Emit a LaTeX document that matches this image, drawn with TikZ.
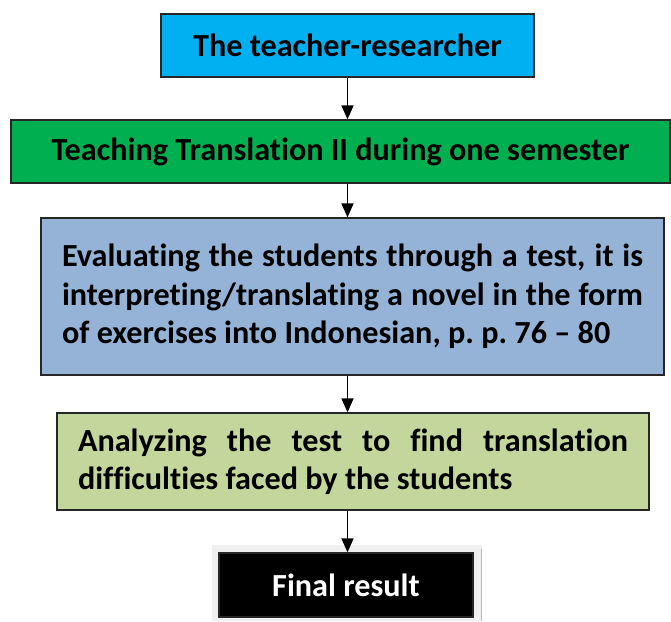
\documentclass[tikz,border=0pt]{standalone}
\usepackage{fontspec}
\setmainfont{Carlito}[Ligatures=NoCommon]
\usetikzlibrary{positioning,arrows.meta}

\definecolor{stepcyan}{HTML}{00B0F0}
\definecolor{stepgreen}{HTML}{00B050}
\definecolor{stepblue}{HTML}{95B3D7}
\definecolor{steplime}{HTML}{C3D69B}

\tikzset{
  stage/.style={shape=rectangle,draw=black!85,line width=1.3pt,inner sep=0pt,
    node font={\bfseries\fontsize{32.2}{38.5}\selectfont\hyphenpenalty=10000\exhyphenpenalty=10000}},
  flow/.style={line width=1.6pt,-{Triangle[width=12pt,length=14pt]}}
}

\begin{document}
\begin{tikzpicture}[x=1pt,y=-1pt]
\useasboundingbox (0,0) rectangle (671,621);

\node[stage,fill=stepcyan,minimum width=373pt,minimum height=63pt] (R) at (347.5,45.5) {The teacher-researcher};
\node[stage,fill=stepgreen,minimum width=659pt,minimum height=63pt] (T) at (340.5,151.5) {Teaching Translation II during one semester};
\node[stage,fill=stepblue,text width=581pt,inner xsep=21pt,minimum height=157pt,align=justify] (E) at (352.5,296.5)
  {Evaluating the students through a test, it is interpreting/translating a novel in the form of exercises into Indonesian, p.\ p.\ 76 -- 80\par\vspace*{12pt}};
\node[stage,fill=steplime,text width=550pt,inner xsep=21pt,minimum height=97pt,align=justify] (A) at (353,461.5)
  {Analyzing the test to find translation difficulties faced by the students};

% frame behind the last step
\fill[gray!12] (212,545) rectangle (482,621);
\draw[gray!55,line width=1pt] (481,549) -- (481,621);
\node[stage,fill=black,text=white,minimum width=254pt,minimum height=64pt] (F) at (346,585) {Final result};

\draw[flow] (R.south) -- (R.south |- T.north);
\draw[flow] (R.south |- T.south) -- (R.south |- E.north);
\draw[flow] (R.south |- E.south) -- (R.south |- A.north);
\draw[flow] (R.south |- A.south) -- (R.south |- F.north);
\end{tikzpicture}
\end{document}
